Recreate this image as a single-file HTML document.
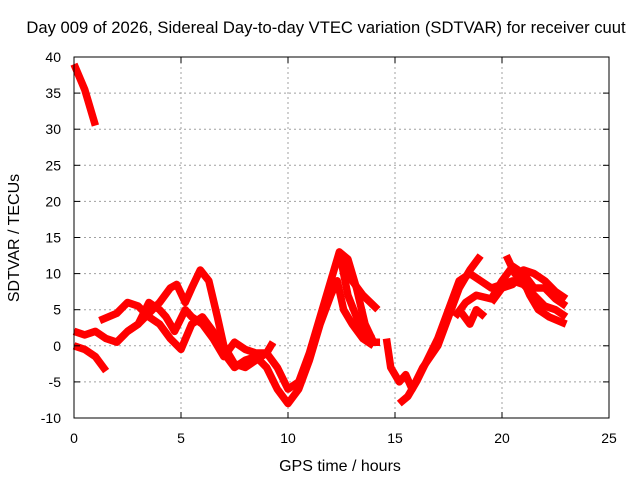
<!DOCTYPE html>
<html><head><meta charset="utf-8"><style>
body{margin:0;background:#fff;}
svg text{font-family:"Liberation Sans",sans-serif;font-size:14px;fill:#000;}
</style></head><body>
<svg id="chart" width="640" height="480">
<text x="326" y="33" text-anchor="middle" style="font-size:16.6px">Day 009 of 2026, Sidereal Day-to-day VTEC variation (SDTVAR) for receiver cuut</text>
<g id="grid"></g><g id="series"></g><g id="axes"></g>
<text x="340" y="471" text-anchor="middle" style="font-size:16px">GPS time / hours</text>
<text transform="translate(19,238) rotate(-90)" text-anchor="middle" style="font-size:16px">SDTVAR / TECUs</text>
</svg>
<script>
const xTicks=[0,5,10,15,20,25];
const yTicks=[-10,-5,0,5,10,15,20,25,30,35,40];
const s1x=[0,0.5,1];const s1y=[39,35.5,30.5];
const s2x=[0,0.5,1,1.5];const s2y=[0,-0.5,-1.5,-3.5];
const s3x=[0,0.5,1,1.5,2,2.5,3,3.5,4,4.5,4.8,5.2,5.5,5.9,6.3,6.7,7,7.5,8,8.5,9,9.5,10,10.5,11,11.5,12,12.4,12.8,13.2,13.6,14,14.3];
const s3y=[2,1.5,2,1,0.5,2,3,4.5,6,8,8.5,6,8,10.5,9,4,0,-2.5,-3,-2,-1,-3,-6,-5,-1,4,9,13,12,8,3,0.5,0.5];
const s4x=[1.2,2,2.5,3,3.5,4,4.5,5,5.5,6,6.5,7,7.5,8,8.5,9,9.5,10,10.5,11,11.5,12,12.3,12.6,13,13.5,14];
const s4y=[3.5,4.5,6,5.5,4,3,1,-0.5,3,4,2,-1,-3,-2,-1.5,-3,-6,-8,-6,-2,3,7,9,5,3,1,0];
const s5x=[2.5,3,3.5,4,4.3,4.7,5.2,5.5,6,6.5,7,7.5,8,8.5,9,9.3];
const s5y=[2,3,6,5,4,2,5,4,3,1,-1.5,0.5,-0.5,-1,-1,0.5];
const s6x=[12.4,12.8,13.2,13.5,14];const s6y=[13,7,4,1.5,1];
const s7x=[12.5,13,13.5,14.2];const s7y=[12,9,7,5];
const s8x=[14.6,14.8,15.2,15.5,15.8,16.3,17,17.5,18,18.5,19];
const s8y=[1,-3,-5,-4,-6,-3,0,4,8,10.5,12.5];
const s9x=[15.2,15.6,16,16.5,17,17.5,18,18.5,19,19.5,20,20.5,21,21.5,22,22.5,23];
const s9y=[-8,-7,-5,-2,1,5,9,10,9,8,8.5,9,8.5,7,5.5,5,4];
const s10x=[17.8,18.3,18.8,19.5,20,20.5,21,21.5,22,22.5,23];
const s10y=[4,6,7,6.5,9,11,10,8,8,6.5,5.5];
const s11x=[20.2,20.6,21,21.3,21.7,22.2,23];const s11y=[12.5,10,9,7,5,4,3];
const s12x=[19.5,20,20.5,21,21.5,22,22.5,23];const s12y=[6,8,8.5,10.5,10,9,7.5,6.5];
const s13x=[18,18.5,18.8,19.2];const s13y=[5,3,5,4];
const seriesX=[s1x,s2x,s3x,s4x,s5x,s6x,s7x,s8x,s9x,s10x,s11x,s12x,s13x];
const seriesY=[s1y,s2y,s3y,s4y,s5y,s6y,s7y,s8y,s9y,s10y,s11y,s12y,s13y];
const X0=74,X1=609,Y0=418,Y1=57;
function sx(v){return X0+(v-0)/(25-0)*(X1-X0);}
function sy(v){return Y0-(v+10)/(50)*(Y0-Y1);}
const NS="http://www.w3.org/2000/svg";
const grid=document.getElementById('grid'),axes=document.getElementById('axes'),ser=document.getElementById('series');
function mk(tag,attrs,parent){const e=document.createElementNS(NS,tag);for(const k in attrs)e.setAttribute(k,attrs[k]);parent.appendChild(e);return e;}
xTicks.forEach(t=>{const x=sx(t);
 if(t>0&&t<25){const g=mk('line',{x1:x,x2:x,y1:Y1,y2:Y0,stroke:'#a0a0a0','stroke-dasharray':'2,3'},grid);
 
 }
 const tx=mk('text',{x:x,y:443,'text-anchor':'middle'},axes);tx.textContent=t;
 
 
 mk('line',{x1:x,x2:x,y1:Y0,y2:Y0-6,stroke:'#000'},axes);mk('line',{x1:x,x2:x,y1:Y1,y2:Y1+6,stroke:'#000'},axes);});
yTicks.forEach(t=>{const y=sy(t);
 if(t>-10&&t<40){const g=mk('line',{x1:X0,x2:X1,y1:y,y2:y,stroke:'#a0a0a0','stroke-dasharray':'2,3'},grid);
 
 }
 const tx=mk('text',{x:61,y:y+5,'text-anchor':'end'},axes);tx.textContent=t;
 
 
 mk('line',{x1:X0,x2:X0+6,y1:y,y2:y,stroke:'#000'},axes);mk('line',{x1:X1,x2:X1-6,y1:y,y2:y,stroke:'#000'},axes);});
const fr=mk('rect',{x:X0,y:Y1,width:X1-X0,height:Y0-Y1,fill:'none',stroke:'#000'},axes);


seriesX.forEach((xs,i)=>{const ys=seriesY[i];
 const pts=xs.map((v,j)=>sx(v)+','+sy(ys[j])).join(' ');
 const p=mk('polyline',{points:pts,fill:'none',stroke:'#ff0000','stroke-width':7.5,'stroke-linejoin':'round','stroke-linecap':'butt'},ser);
 
 });
</script>
</body></html>
